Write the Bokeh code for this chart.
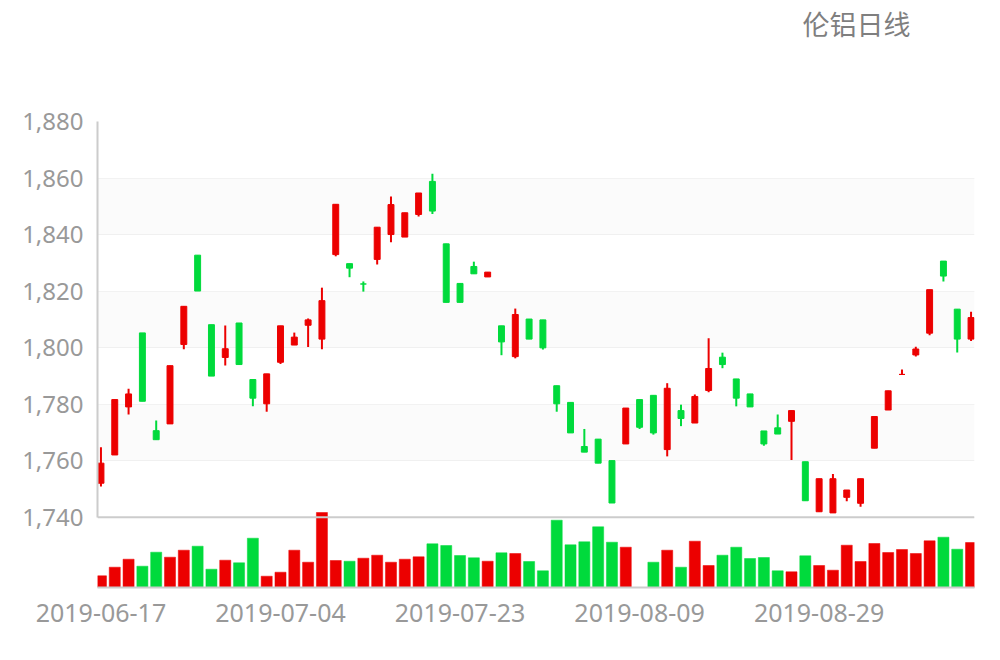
import math
from bokeh.plotting import figure
from bokeh.models import (Range1d, FixedTicker, NumeralTickFormatter, Span, Title,
                          BoxAnnotation, ColumnDataSource)
from bokeh.embed import file_html
from bokeh.resources import INLINE

# ---------------- data ----------------
dates = [
    "2019-06-17", "2019-06-18", "2019-06-19", "2019-06-20", "2019-06-21",
    "2019-06-24", "2019-06-25", "2019-06-26", "2019-06-27", "2019-06-28",
    "2019-07-01", "2019-07-02", "2019-07-03", "2019-07-04", "2019-07-05",
    "2019-07-08", "2019-07-09", "2019-07-10", "2019-07-11", "2019-07-12",
    "2019-07-15", "2019-07-16", "2019-07-17", "2019-07-18", "2019-07-19",
    "2019-07-22", "2019-07-23", "2019-07-24", "2019-07-25", "2019-07-26",
    "2019-07-29", "2019-07-30", "2019-07-31", "2019-08-01", "2019-08-02",
    "2019-08-05", "2019-08-06", "2019-08-07", "2019-08-08", "2019-08-09",
    "2019-08-12", "2019-08-13", "2019-08-14", "2019-08-15", "2019-08-16",
    "2019-08-19", "2019-08-20", "2019-08-21", "2019-08-22", "2019-08-23",
    "2019-08-27", "2019-08-28", "2019-08-29", "2019-08-30",
    "2019-09-02", "2019-09-03", "2019-09-04", "2019-09-05", "2019-09-06",
    "2019-09-09", "2019-09-10", "2019-09-11", "2019-09-12", "2019-09-13",
]

opens = [1752.0, 1762.0, 1779.0, 1805.2, 1770.6, 1773.0, 1801.1, 1832.7, 1808.1, 1796.5,
         1808.7, 1788.7, 1780.1, 1794.8, 1800.9, 1807.9, 1803.0, 1832.9, 1829.7, 1822.5,
         1831.2, 1840.0, 1839.1, 1847.1, 1858.8, 1836.7, 1822.7, 1828.7, 1825.0, 1807.7,
         1796.8, 1810.1, 1809.8, 1786.5, 1780.6, 1765.0, 1767.6, 1760.0, 1765.9, 1781.6,
         1783.1, 1763.9, 1777.7, 1773.3, 1784.8, 1796.6, 1788.9, 1783.6, 1770.5, 1771.6,
         1773.9, 1759.6, 1741.9, 1741.5, 1747.0, 1744.9, 1764.4, 1777.9, 1790.5, 1797.4,
         1805.1, 1830.6, 1813.6, 1803.0]
closes = [1759.1, 1781.6, 1783.6, 1781.0, 1767.4, 1793.6, 1814.6, 1820.0, 1789.9, 1799.6,
          1794.0, 1782.1, 1790.7, 1807.7, 1803.7, 1809.8, 1816.6, 1850.7, 1828.1, 1822.5,
          1842.6, 1850.6, 1847.7, 1854.7, 1848.3, 1816.0, 1816.0, 1826.1, 1826.7, 1802.0,
          1811.7, 1803.0, 1799.9, 1780.1, 1769.8, 1763.0, 1759.1, 1745.0, 1778.6, 1771.8,
          1769.8, 1785.6, 1774.9, 1782.7, 1792.6, 1794.0, 1782.1, 1779.0, 1765.9, 1769.4,
          1777.7, 1745.8, 1753.6, 1753.6, 1749.6, 1753.6, 1775.6, 1784.7, 1790.5, 1799.5,
          1820.5, 1825.3, 1803.0, 1810.6]
highs = [1764.7, 1781.6, 1785.4, 1805.2, 1774.2, 1793.6, 1814.6, 1832.7, 1808.1, 1807.8,
         1808.7, 1788.7, 1790.7, 1807.7, 1805.3, 1810.3, 1821.2, 1850.7, 1829.7, 1823.4,
         1842.6, 1853.5, 1847.7, 1854.7, 1861.5, 1836.7, 1822.7, 1830.4, 1826.7, 1807.7,
         1813.8, 1810.1, 1809.8, 1786.5, 1780.6, 1771.2, 1767.6, 1760.0, 1778.6, 1781.6,
         1783.1, 1787.4, 1779.8, 1783.4, 1803.3, 1798.2, 1788.9, 1783.6, 1770.5, 1776.3,
         1777.7, 1759.6, 1753.6, 1755.3, 1749.6, 1753.6, 1775.6, 1784.7, 1792.2, 1800.3,
         1820.5, 1830.6, 1813.6, 1812.7]
lows = [1750.8, 1762.0, 1776.3, 1781.0, 1767.4, 1773.0, 1799.4, 1820.0, 1789.9, 1793.7,
        1794.0, 1779.2, 1777.3, 1794.2, 1800.9, 1800.2, 1799.4, 1832.3, 1824.9, 1819.8,
        1829.4, 1837.3, 1839.1, 1846.4, 1847.3, 1816.0, 1816.0, 1826.1, 1825.0, 1797.3,
        1796.2, 1803.0, 1799.3, 1777.3, 1769.8, 1763.0, 1759.1, 1745.0, 1765.9, 1771.2,
        1769.2, 1761.5, 1772.2, 1773.3, 1784.2, 1792.7, 1779.2, 1779.0, 1765.3, 1769.4,
        1760.2, 1745.8, 1741.9, 1741.5, 1745.6, 1743.7, 1764.4, 1777.9, 1790.5, 1796.8,
        1804.4, 1823.4, 1798.3, 1802.3]
volumes = [4680, 8120, 11320, 8520, 14120, 12120, 14920, 16520, 7320, 10920,
           9880, 19720, 4520, 6120, 14920, 10120, 30000, 10800, 10520, 11720,
           12920, 10120, 11320, 12280, 17480, 16800, 12800, 11880, 10520, 13880,
           13600, 10400, 6680, 26920, 17080, 18280, 24280, 18120, 16120, float("nan"),
           10120, 14920, 8120, 18520, 8800, 12920, 16120, 11600, 12000, 6680,
           6280, 12680, 8800, 6920, 16920, 10400, 17600, 14000, 15200, 13600,
           18680, 20120, 15320, 18000]

y_ticks = [1740, 1760, 1780, 1800, 1820, 1840, 1860, 1880]
x_tick_idx = [0, 13, 26, 39, 52]
title_text = "伦铝日线"

UP = "#ec0000"
DOWN = "#00da3c"

# ---------------- derived ----------------
n = len(dates)
xs = list(range(n))
candle_colors = []
for i in range(n):
    if closes[i] > opens[i]:
        candle_colors.append(UP)
    elif closes[i] < opens[i]:
        candle_colors.append(DOWN)
    else:
        prev = closes[i - 1] if i > 0 else closes[i]
        candle_colors.append(UP if closes[i] >= prev else DOWN)
vol_colors = [DOWN if opens[i] > closes[i] else UP for i in range(n)]

src = ColumnDataSource(dict(
    x=xs, o=opens, c=closes, h=highs, l=lows,
    top=[max(a, b) for a, b in zip(opens, closes)],
    bot=[min(a, b) for a, b in zip(opens, closes)],
    col=candle_colors, vol=volumes, vcol=vol_colors,
))

# ---------------- figure ----------------
FRAME_H = 466
p = figure(width=990, height=640, output_backend="svg", toolbar_location=None,
           x_range=Range1d(-0.25, 63.25), y_range=Range1d(1715.1, 1880),
           min_border_left=97, min_border_right=16, min_border_top=121,
           min_border_bottom=640 - 121 - FRAME_H)
p.outline_line_color = None
p.background_fill_color = "white"
p.border_fill_color = "white"

vmax = max(v for v in volumes if not math.isnan(v))
p.extra_y_ranges = {"vol": Range1d(0, vmax * FRAME_H / 75.0)}

# alternating light bands (splitArea)
for k in range(1, len(y_ticks) - 1, 2):
    p.add_layout(BoxAnnotation(bottom=y_ticks[k], top=y_ticks[k + 1],
                               fill_color="#f6f6f6", fill_alpha=0.45,
                               line_color=None, level="underlay"))

# volume bars
p.vbar(x="x", top="vol", bottom=0, width=0.8, fill_color="vcol", line_color="vcol",
       line_width=0.5, y_range_name="vol", source=src)

# candles
p.segment(x0="x", y0="h", x1="x", y1="l", line_color="col", line_width=2, source=src)
p.vbar(x="x", top="top", bottom="bot", width=0.43, fill_color="col", line_color="col",
       line_width=1, source=src)

# axes
yax = p.yaxis[0]
yax.ticker = FixedTicker(ticks=y_ticks)
yax.bounds = (y_ticks[0], y_ticks[-1])
yax.formatter = NumeralTickFormatter(format="0,0")
yax.axis_line_color = "#cccccc"
yax.axis_line_width = 2
yax.major_tick_line_color = None
yax.minor_tick_line_color = None
yax.major_label_text_font = "Noto Sans"
yax.major_label_text_font_size = "24px"
yax.major_label_text_color = "#999999"
yax.major_label_standoff = 8

xax = p.xaxis[0]
xax.ticker = FixedTicker(ticks=x_tick_idx)
xax.major_label_overrides = {i: dates[i] for i in x_tick_idx}
xax.axis_line_color = "#cccccc"
xax.axis_line_width = 2
xax.major_tick_line_color = None
xax.minor_tick_line_color = None
xax.major_label_text_font = "Noto Sans"
xax.major_label_text_font_size = "25px"
xax.major_label_text_color = "#999999"
xax.major_label_standoff = 10

# grid
p.xgrid.visible = False
p.ygrid.ticker = FixedTicker(ticks=y_ticks)
p.ygrid.grid_line_color = "#eeeeee"
p.ygrid.grid_line_width = 1

# price-axis baseline
p.add_layout(Span(location=y_ticks[0], dimension="width", line_color="#cccccc",
                  line_width=2))

# title: a blank spacer panel next to the frame, then the real title above it
spacer = Title(text=" ", standoff=76, text_font_size="1px", text_color="white")
p.add_layout(spacer, "above")
title = Title(text=title_text, align="right", offset=64, standoff=0,
              text_font="Noto Sans CJK SC", text_font_size="27px",
              text_font_style="normal", text_color="#7f7f7f")
p.add_layout(title, "above")

open("out.html", "w").write(file_html(p, INLINE))
